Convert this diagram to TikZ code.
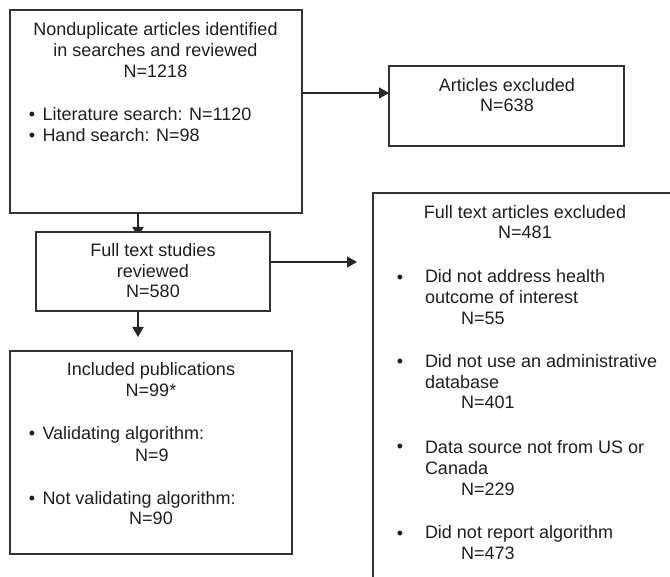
\documentclass[tikz,border=0pt]{standalone}
\usepackage{fontspec}
\setmainfont{Liberation Sans}
\usetikzlibrary{arrows.meta}
\begin{document}
\begin{tikzpicture}[x=1pt,y=-1pt,
  box/.style={draw=black!80, line width=1.5pt, inner sep=0pt, outer sep=0pt, rectangle, anchor=north west},
  txt/.style={inner sep=0pt, outer sep=0pt, font=\fontsize{18}{20.8}\selectfont, text=black!88, anchor=base},
  ltxt/.style={txt, align=left, anchor=base west},
  ctxt/.style={txt, align=center},
  arr/.style={draw=black!85, line width=1.5pt, -{Triangle[length=10pt,width=11pt]}}]
\useasboundingbox (0,0) rectangle (670,577);
\clip (0,0) rectangle (670,577);
% boxes
\node[box, minimum width=292pt, minimum height=203pt] (b1) at (10,10) {};
\coordinate (p2) at (138,213);
\coordinate (q2) at (138,237);
\draw[arr] (p2) -- (q2);
\node[box, fill=white, minimum width=234pt, minimum height=79pt] (b2) at (36,232) {};
\node[box, minimum width=282pt, minimum height=203pt] (b3) at (10,351) {};
\node[box, minimum width=235pt, minimum height=80pt] (ex) at (389,66) {};
\node[box, minimum width=320pt, minimum height=420pt] (rb) at (373,193) {};
% connectors
\coordinate (p1) at (302,93);
\draw[arr] (p1) -- (p1 -| ex.west);
\coordinate (p3) at (270,262);
\coordinate (q3) at (357,262);
\draw[arr] (p3) -- (q3);
\coordinate (p4) at (138,311);
\coordinate (q4) at (138,337);
\draw[arr] (p4) -- (q4);
% box 1 text (base = last line baseline)
\node[ctxt] (t1) at (155.5,77.6) {Nonduplicate articles identified\\in searches and reviewed\\N=1218};
\node[ctxt] (d1a) at (32,121) {•};
\node[ltxt] (t1a) at (42.5,121) {Literature search: N=1120};
\node[ctxt] (d1b) at (32,142) {•};
\node[ltxt] (t1b) at (42.5,142) {Hand search: N=98};
% box 2 text
\node[ctxt] (t2) at (153,298) {Full text studies\\reviewed\\N=580};
% box 3 text
\node[ctxt] (t3) at (151,396.5) {Included publications\\N=99*};
\node[ctxt] (d3a) at (32,439) {•};
\node[ltxt] (t3a) at (42.5,440) {Validating algorithm:};
\node[ctxt] (t3an) at (152,461) {N=9};
\node[ctxt] (d3b) at (32,504) {•};
\node[ltxt] (t3b) at (42.5,504) {Not validating algorithm:};
\node[ctxt] (t3bn) at (151,524) {N=90};
% excluded box text
\node[ctxt] (tex) at (507,112) {Articles excluded\\N=638};
% right box text
\node[ctxt] (trb) at (525,239) {Full text articles excluded\\N=481};
\node[ctxt] (dr1) at (400,284) {•};
\node[ltxt] (tr1) at (425,324.5) {Did not address health\\outcome of interest\\\hspace*{36pt}N=55};
\node[ctxt] (dr2) at (400,368) {•};
\node[ltxt] (tr2) at (425,409) {Did not use an administrative\\database\\\hspace*{36pt}N=401};
\node[ctxt] (dr3) at (400,453) {•};
\node[ltxt] (tr3) at (425,495) {Data source not from US or\\Canada\\\hspace*{36pt}N=229};
\node[ctxt] (dr4) at (400,539) {•};
\node[ltxt] (tr4) at (425,559) {Did not report algorithm\\\hspace*{36pt}N=473};
\end{tikzpicture}
\end{document}
